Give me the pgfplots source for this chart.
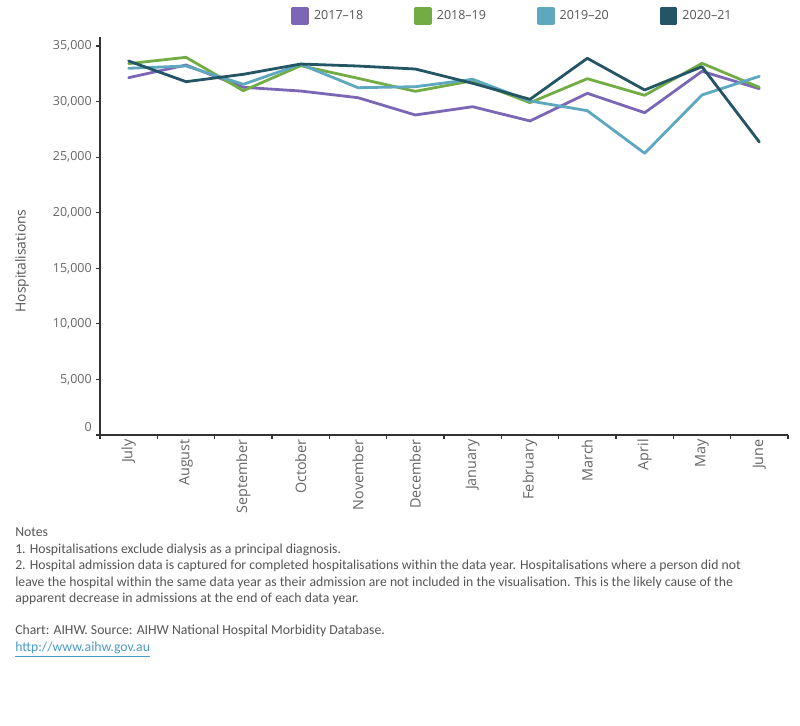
\documentclass[border=0pt]{standalone}
\usepackage{pgfplots}
\usepackage{pgfplotstable}
\pgfplotsset{compat=1.18}
\usepackage{fontspec}
\setmainfont{Open Sans}
\newfontfamily\notesfont{Carlito}

\definecolor{cPurple}{HTML}{7B67B6}
\definecolor{cGreen}{HTML}{72AC45}
\definecolor{cBlue}{HTML}{5DA8BF}
\definecolor{cDark}{HTML}{245565}
\definecolor{txt}{HTML}{555555}
\definecolor{ticktxt}{HTML}{666666}
\definecolor{axisline}{HTML}{333333}
\definecolor{linkblue}{HTML}{4A9BC7}

% Monthly hospitalisations, July (0) to June (11)
\pgfplotstableread{
m  y1718  y1819  y1920  y2021
0  32150  33410  32995  33652
1  33290  33985  33200  31790
2  31285  30980  31555  32455
3  30950  33230  33355  33380
4  30350  32095  31250  33200
5  28795  30925  31340  32930
6  29540  31880  32005  31645
7  28255  29900  30055  30205
8  30745  32060  29180  33895
9  29000  30565  25350  31045
10 32725  33445  30595  33140
11 31160  31285  32275  26365
}\hosp

\newcommand{\axisfont}{\fontsize{9.375pt}{11pt}\selectfont}
\newcommand{\monthfont}{\fontsize{10.8pt}{12pt}\selectfont}
\newcommand{\titlefont}{\fontsize{10.4pt}{12pt}\selectfont}
\newcommand{\nfont}{\notesfont\fontsize{10.3pt}{12pt}\selectfont}

\begin{document}
\begin{tikzpicture}
\path[use as bounding box] (0,0) rectangle (600pt,-543.75pt);

\begin{axis}[
  at={(75pt,-326.25pt)}, anchor=south west,
  scale only axis, width=516pt, height=298.5pt,
  xmin=-0.5, xmax=11.5, ymin=0, ymax=35811,
  axis lines*=left,
  axis line style={axisline, line width=1.1pt},
  major tick length=0pt,
  minor tick length=3pt,
  tick align=outside,
  tick style={axisline, line width=0.8pt},
  minor xtick={-0.5,0.5,...,11.5},
  minor ytick={0,5000,...,35000},
  xtick={0,...,11},
  xticklabels={July,August,September,October,November,December,January,February,March,April,May,June},
  xticklabel style={rotate=90, anchor=east, inner sep=0pt, font=\monthfont, text=ticktxt},
  xticklabel shift=3pt,
  ytick={5000,10000,...,35000},
  extra y ticks={0},
  extra y tick style={yticklabel style={yshift=6pt}},
  yticklabel style={inner sep=0pt, font=\axisfont, text=ticktxt},
  yticklabel shift=6pt,
  /pgf/number format/.cd, 1000 sep={,}, assume math mode=true, /pgfplots/.cd,
  scaled y ticks=false,
  legend columns=4,
  legend style={at={(axis description cs:0.2776,1.0754)}, anchor=north west,
    draw=none, fill=none, inner sep=0pt, column sep=0pt,
    nodes={inner sep=0pt, font=\axisfont, text=txt}},
  legend image code/.code={\fill[#1] (0pt,-5.625pt) rectangle (11.25pt,5.625pt); \path (15pt,0pt);},
  every axis plot/.append style={line width=2.1pt, line join=round, line cap=round, mark=none},
]
\addplot[color=cPurple] table[x=m, y=y1718] {\hosp};
\addlegendentry{\makebox[75pt][l]{2017–18}}
\addplot[color=cGreen] table[x=m, y=y1819] {\hosp};
\addlegendentry{\makebox[75pt][l]{2018–19}}
\addplot[color=cBlue] table[x=m, y=y1920] {\hosp};
\addlegendentry{\makebox[75pt][l]{2019–20}}
\addplot[color=cDark] table[x=m, y=y2021] {\hosp};
\addlegendentry{\makebox[75pt][l]{2020–21}}
\end{axis}

\node[rotate=90, text=txt, font=\titlefont, inner sep=0pt] at (16.5pt,-195.75pt) {Hospitalisations};

\begin{scope}[every node/.style={anchor=base west, inner sep=0pt, text=txt, font=\nfont}]
\node at (11.25pt,-402.2pt) {Notes};
\node at (11.25pt,-415.0pt) {1. Hospitalisations exclude dialysis as a principal diagnosis.};
\node at (11.25pt,-427.3pt) {2. Hospital admission data is captured for completed hospitalisations within the data year. Hospitalisations where a person did not};
\node at (11.25pt,-439.5pt) {leave the hospital within the same data year as their admission are not included in the visualisation. This is the likely cause of the};
\node at (11.25pt,-452.0pt) {apparent decrease in admissions at the end of each data year.};
\node at (11.25pt,-476.0pt) {Chart: AIHW. Source: AIHW National Hospital Morbidity Database.};
\node[text=linkblue] at (11.25pt,-488.8pt) {\underline{http://www.aihw.gov.au}};
\end{scope}
\end{tikzpicture}
\end{document}
